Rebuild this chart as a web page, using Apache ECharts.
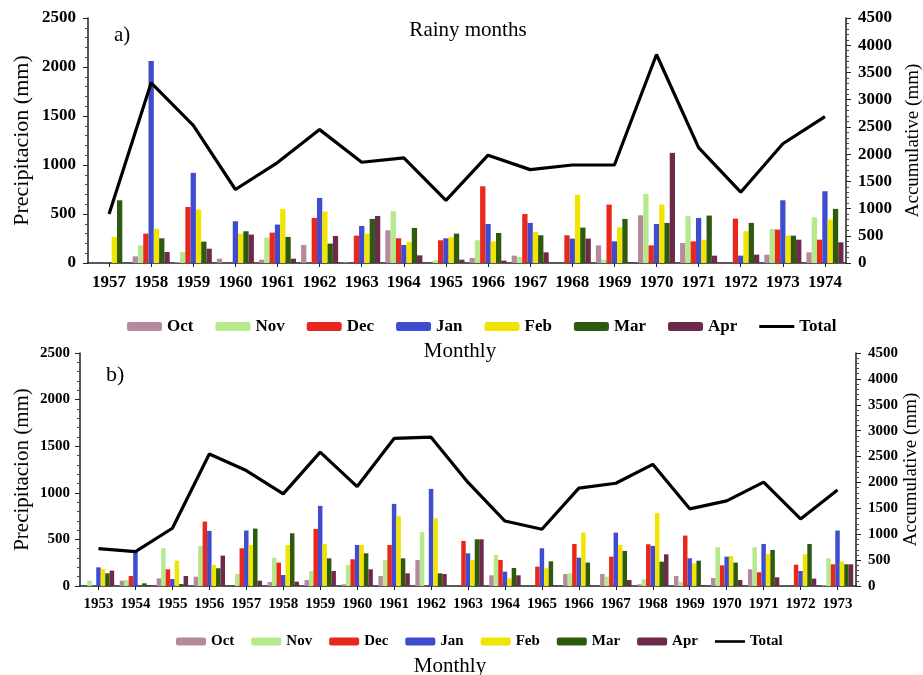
<!DOCTYPE html>
<html>
<head>
<meta charset="utf-8">
<script src="https://cdn.jsdelivr.net/npm/echarts@6/dist/echarts.min.js"></script>
<style>
html,body{margin:0;padding:0;background:#fff;}
#chart{width:923px;height:675px;}
</style>
</head>
<body>
<div id="chart"></div>
<script>
// ---------- Panel a: rainy months 1957-1974 ----------
var yearsA = ['1957','1958','1959','1960','1961','1962','1963','1964','1965','1966','1967','1968','1969','1970','1971','1972','1973','1974'];
var octA = [0, 68, 10, 44, 34, 184, 7, 334, 0, 51, 75, 0, 180, 487, 204, 0, 85, 109];
var novA = [0, 180, 112, 0, 259, 0, 0, 528, 27, 232, 61, 0, 34, 705, 477, 0, 347, 467];
var decA = [0, 300, 572, 0, 310, 460, 279, 252, 232, 783, 500, 283, 596, 180, 221, 453, 341, 238];
var janA = [0, 2060, 920, 426, 392, 664, 378, 184, 252, 398, 409, 249, 221, 398, 460, 75, 640, 732];
var febA = [266, 350, 545, 300, 552, 525, 300, 215, 266, 221, 317, 698, 364, 596, 238, 324, 279, 443];
var marA = [640, 252, 218, 324, 266, 198, 450, 358, 300, 306, 283, 361, 450, 409, 484, 409, 279, 552];
var aprA = [0, 112, 146, 290, 44, 276, 480, 78, 34, 24, 109, 249, 10, 1124, 75, 85, 238, 211];
var totalA = [900, 3310, 2530, 1350, 1845, 2450, 1850, 1930, 1150, 1980, 1715, 1800, 1800, 3830, 2120, 1300, 2190, 2690];

// ---------- Panel b: monthly 1953-1973 ----------
var yearsB = ['1953','1954','1955','1956','1957','1958','1959','1960','1961','1962','1963','1964','1965','1966','1967','1968','1969','1970','1971','1972','1973'];
var octB = [0, 57, 82, 100, 0, 43, 64, 18, 107, 279, 0, 115, 0, 129, 129, 18, 107, 86, 179, 0, 11];
var novB = [57, 64, 405, 430, 129, 304, 161, 226, 279, 577, 0, 333, 0, 136, 100, 72, 43, 415, 415, 0, 297];
var decB = [0, 107, 179, 691, 405, 251, 612, 287, 440, 0, 483, 279, 208, 451, 315, 448, 541, 222, 147, 229, 233];
var janB = [200, 365, 75, 591, 595, 118, 860, 440, 881, 1042, 351, 154, 405, 304, 573, 430, 297, 315, 451, 161, 595];
var febB = [183, 0, 272, 226, 440, 440, 451, 440, 752, 727, 279, 82, 190, 573, 440, 781, 244, 322, 344, 340, 261];
var marB = [136, 29, 21, 190, 616, 566, 297, 351, 297, 136, 501, 193, 265, 251, 376, 261, 272, 251, 387, 451, 233];
var aprB = [165, 11, 107, 326, 57, 47, 161, 179, 136, 129, 501, 115, 7, 7, 64, 340, 11, 64, 93, 79, 233];
var totalB = [720, 665, 1115, 2550, 2230, 1780, 2585, 1920, 2850, 2875, 2000, 1255, 1095, 1890, 1985, 2350, 1490, 1645, 2005, 1295, 1855];

var monthNames = ['Oct','Nov','Dec','Jan','Feb','Mar','Apr'];
var monthColors = ['#b58a9f','#b6e88c','#e8281c','#3f4ccf','#f0e400','#2e5a0e','#6d2a4b'];
var leftTicks = [0, 500, 1000, 1500, 2000, 2500];
var rightTicks = [0, 500, 1000, 1500, 2000, 2500, 3000, 3500, 4000, 4500];

var serif = '"Liberation Serif", "DejaVu Serif", serif';
var chart = echarts.init(document.getElementById('chart'));

var legendData = monthNames.map(function(n){ return {name:n}; });
legendData.push({name:'Total', icon:'path://M0,0L35,0L35,3L0,3Z'});

function barSeries(name, color, data, xi, yi, gap){
  return {name:name, type:'bar', xAxisIndex:xi, yAxisIndex:yi, data:data,
    itemStyle:{color:color}, barGap:'0%', barCategoryGap:gap};
}
function valueAxis(gridIndex, pos, ticks, fontSize, margin, name, nameSize, nameGap){
  return {
    type:'value', gridIndex:gridIndex, position:pos,
    min:ticks[0], max:ticks[ticks.length-1], interval:500,
    name:name, nameLocation:'middle', nameGap:nameGap, nameRotate:90, nameMoveOverlap:false,
    nameTextStyle:{fontFamily:serif, fontSize:nameSize, color:'#000'},
    axisLine:{show:true, lineStyle:{color:'#222', width:1.5}},
    axisTick:{show:true, length:5, lineStyle:{color:'#222'}},
    minorTick:{show:true, splitNumber:5, length:3, lineStyle:{color:'#444'}},
    splitLine:{show:false},
    axisLabel:{fontFamily:serif, fontWeight:'bold', fontSize:fontSize, color:'#000', margin:margin,
      formatter:function(v){ return String(v); }}
  };
}
function catAxis(gridIndex, data, fontSize){
  return {
    type:'category', gridIndex:gridIndex, data:data,
    axisLine:{lineStyle:{color:'#222', width:1.5}},
    axisTick:{show:true, alignWithLabel:true, length:4, lineStyle:{color:'#222'}},
    axisLabel:{fontFamily:serif, fontWeight:'bold', fontSize:fontSize, color:'#000', margin:11, interval:0}
  };
}

var series = [];
var dataA = [octA, novA, decA, janA, febA, marA, aprA];
var dataB = [octB, novB, decB, janB, febB, marB, aprB];
for (var i = 0; i < 7; i++) series.push(barSeries(monthNames[i], monthColors[i], dataA[i], 0, 0, '12%'));
series.push({name:'Total', type:'line', xAxisIndex:0, yAxisIndex:1, data:totalA, symbol:'none',
  lineStyle:{color:'#000', width:3.2}, itemStyle:{color:'#000'}, z:5});
for (var j = 0; j < 7; j++) series.push(barSeries(monthNames[j], monthColors[j], dataB[j], 1, 2, '15%'));
series.push({name:'Total', type:'line', xAxisIndex:1, yAxisIndex:3, data:totalB, symbol:'none',
  lineStyle:{color:'#000', width:3.2}, itemStyle:{color:'#000'}, z:5});

var option = {
  backgroundColor:'#fff',
  animation:false,
  title:[
    {text:'Rainy months', left:463, top:15, textAlign:'center',
      textStyle:{fontFamily:serif, fontWeight:'normal', fontSize:21, color:'#000'}},
    {text:'a)', left:109, top:20,
      textStyle:{fontFamily:serif, fontWeight:'normal', fontSize:21, color:'#000'}},
    {text:'b)', left:101, top:359,
      textStyle:{fontFamily:serif, fontWeight:'normal', fontSize:22, color:'#000'}},
    {text:'Monthly', left:455, top:336, textAlign:'center',
      textStyle:{fontFamily:serif, fontWeight:'normal', fontSize:21, color:'#000'}},
    {text:'Monthly', left:445, top:651, textAlign:'center',
      textStyle:{fontFamily:serif, fontWeight:'normal', fontSize:21, color:'#000'}}
  ],
  legend:[
    {data:legendData, left:122, top:313, itemWidth:35, itemHeight:9, itemGap:22,
      textStyle:{fontFamily:serif, fontWeight:'bold', fontSize:17, color:'#000'}},
    {data:legendData, left:171, top:629, itemWidth:30, itemHeight:8, itemGap:17,
      textStyle:{fontFamily:serif, fontWeight:'bold', fontSize:15, color:'#000'}}
  ],
  grid:[
    {left:88, right:77, top:18, height:245, containLabel:false, outerBoundsMode:'none'},
    {left:80, right:67, top:353, height:233, containLabel:false, outerBoundsMode:'none'}
  ],
  xAxis:[catAxis(0, yearsA, 17), catAxis(1, yearsB, 15)],
  yAxis:[
    valueAxis(0, 'left', leftTicks, 17, 12, 'Precipitacion (mm)', 22, 55),
    valueAxis(0, 'right', rightTicks, 17, 12, 'Accumulative (mm)', 19, 58),
    valueAxis(1, 'left', leftTicks, 15, 10, 'Precipitacion (mm)', 21, 47),
    valueAxis(1, 'right', rightTicks, 15, 12, 'Accumulative (mm)', 19, 46)
  ],
  series:series
};
chart.setOption(option);
</script>
</body>
</html>
